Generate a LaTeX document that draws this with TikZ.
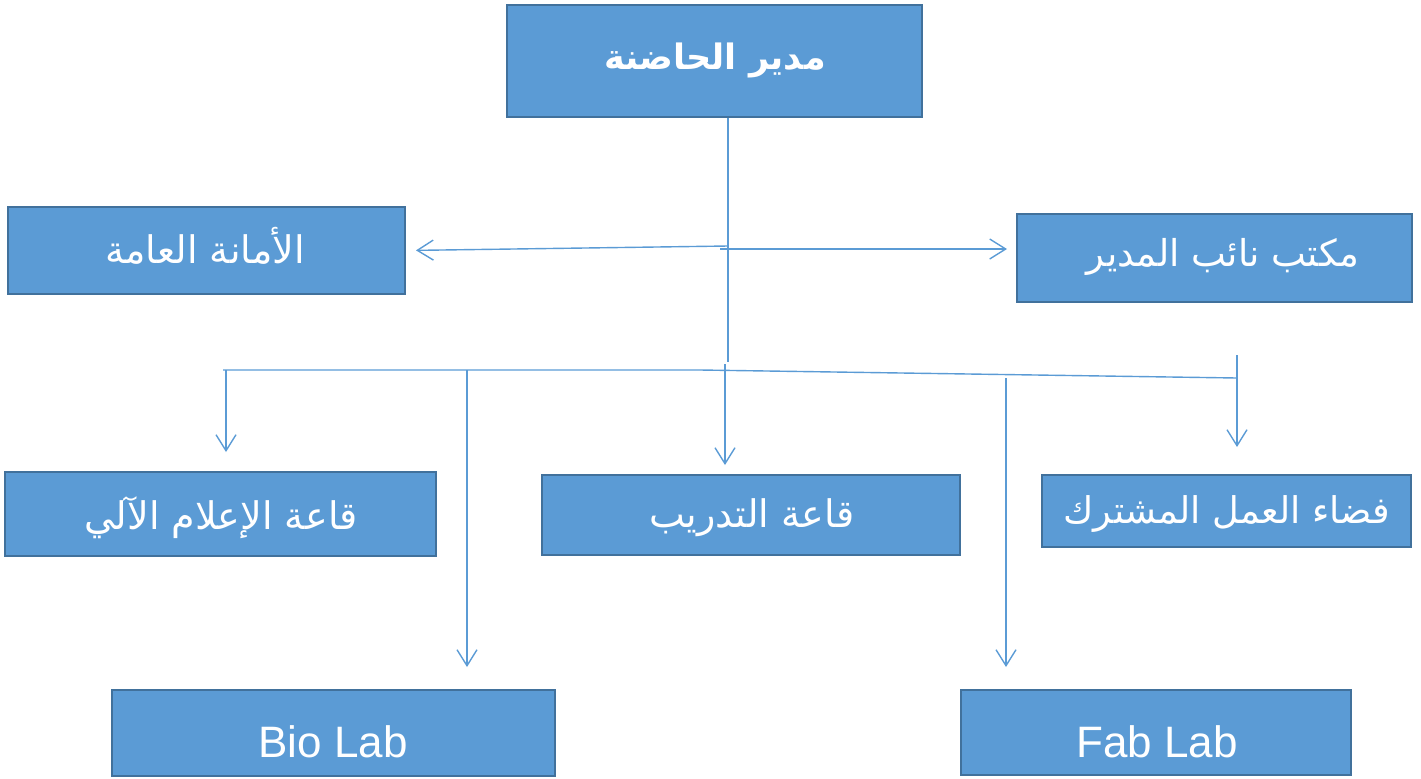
\documentclass[tikz,border=0pt]{standalone}
\usepackage{fontspec}
\setmainfont{Liberation Sans}
\newfontfamily\arabicfont[Script=Arabic]{DejaVu Sans}
\TeXXeTstate=1
\usetikzlibrary{arrows.meta}
\definecolor{boxfill}{HTML}{5B9BD5}
\definecolor{boxline}{HTML}{41719C}
\definecolor{linkc}{HTML}{5B9BD5}
\tikzset{
  orgbox/.style={draw=boxline, line width=1pt, fill=boxfill, inner sep=0pt},
  artext/.style={text=white, inner sep=0pt, font=\arabicfont\fontsize{19pt}{23pt}\selectfont},
  lattext/.style={text=white, inner sep=0pt, font=\fontsize{22pt}{26pt}\selectfont},
  link/.style={draw=linkc, line width=0.7pt},
  arr/.style={link, -{Straight Barb[length=8pt,width=10pt,line width=0.7pt]}}
}
\begin{document}
\begin{tikzpicture}[x=0.5pt,y=-0.5pt]
\useasboundingbox (0,0) rectangle (1421,778);
% boxes
\node[orgbox, minimum width=207.5pt, minimum height=56pt] (top) at (714.5,61) {};
\node[orgbox, minimum width=198.5pt, minimum height=43.5pt] (sec) at (206.5,250.5) {};
\node[orgbox, minimum width=197.5pt, minimum height=44pt] (dep) at (1214.5,258) {};
\node[orgbox, minimum width=215.5pt, minimum height=42pt] (media) at (220.5,514) {};
\node[orgbox, minimum width=209pt, minimum height=40pt] (train) at (751,515) {};
\node[orgbox, minimum width=184.5pt, minimum height=36pt] (cowork) at (1226.5,511) {};
\node[orgbox, minimum width=221.5pt, minimum height=43pt] (bio) at (333.5,733) {};
\node[orgbox, minimum width=195pt, minimum height=42.5pt] (fab) at (1156,732.5) {};
% texts
\node[artext, font=\arabicfont\bfseries\fontsize{17.5pt}{21pt}\selectfont] (topT) at (715,60) {\beginR مدير الحاضنة\endR};
\node[artext] (secT) at (205,246) {\beginR الأمانة العامة\endR};
\node[artext, font=\arabicfont\fontsize{18.5pt}{22pt}\selectfont] (depT) at (1223,257) {\beginR مكتب نائب المدير\endR};
\node[artext] (mediaT) at (221,518) {\beginR قاعة الإعلام الآلي\endR};
\node[artext] (trainT) at (752,518) {\beginR قاعة التدريب\endR};
\node[artext, font=\arabicfont\fontsize{18.4pt}{22pt}\selectfont] (coworkT) at (1227,514) {\beginR فضاء العمل المشترك\endR};
\node[lattext] (bioT) at (333,742) {Bio Lab};
\node[lattext] (fabT) at (1157,742) {Fab Lab};
% connector points
\coordinate (vEnd) at (728,362);
\coordinate (l0) at (728,246);
\coordinate (r0) at (720,249);
\coordinate (b0) at (223,370);
\coordinate (b1) at (700,370);
\coordinate (b2) at (1237,378);
\coordinate (dMedia) at (226,370);
\coordinate (dBio) at (467,370);
\coordinate (dTrain) at (725,364);
\coordinate (dFab) at (1006,378);
\coordinate (dCow) at (1237,355);
% connectors
\draw[link] (top.south -| vEnd) -- (vEnd);
\draw[arr, shorten >=5pt] (l0) -- (sec.east);
\draw[arr, shorten >=4.5pt] (r0) -- (dep.west |- r0);
\draw[link] (b0) -- (b1) -- (b2);
\draw[arr, shorten >=9.5pt] (dMedia) -- (dMedia |- media.north);
\draw[arr, shorten >=11pt] (dBio) -- (dBio |- bio.north);
\draw[arr, shorten >=4.5pt] (dTrain) -- (dTrain |- train.north);
\draw[arr, shorten >=11pt] (dFab) -- (dFab |- fab.north);
\draw[arr, shorten >=13.5pt] (dCow) -- (dCow |- cowork.north);
\end{tikzpicture}
\end{document}
